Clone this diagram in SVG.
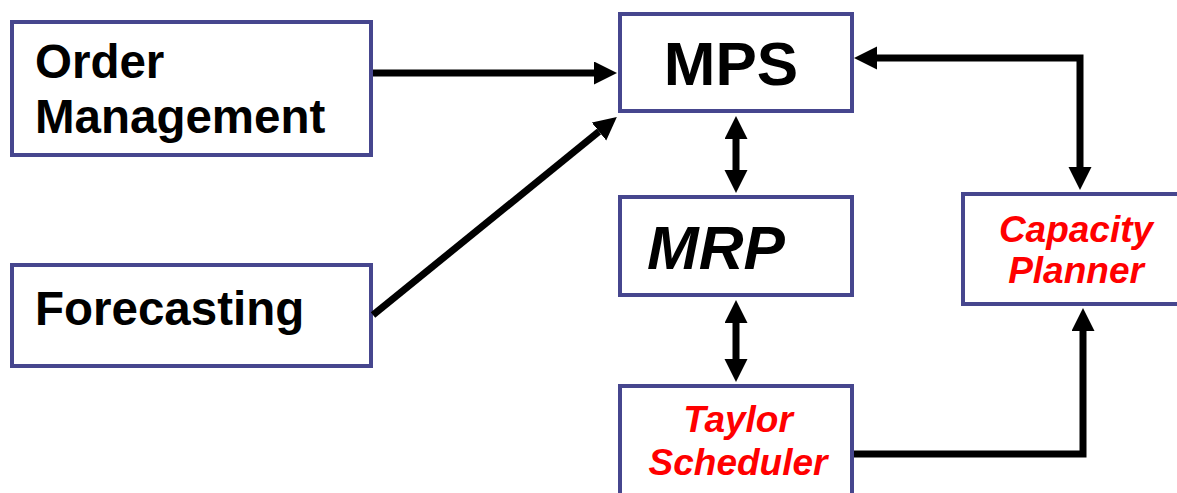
<svg xmlns="http://www.w3.org/2000/svg" width="1177" height="493" viewBox="0 0 1177 493">
<style>
.box{fill:#fff;stroke:#46468e;stroke-width:4}
.t{font-family:"Liberation Sans",Arial,sans-serif;font-weight:bold;fill:#000}
.red{fill:#ff0000;font-style:italic}
.c{fill:none;stroke:#000;stroke-width:7;stroke-linejoin:miter}
</style>
<defs>
<marker id="ah" markerUnits="userSpaceOnUse" markerWidth="24" markerHeight="24" refX="0" refY="11.5" orient="auto-start-reverse" viewBox="0 0 24 24">
<path d="M0,0 L23,11.5 L0,23 z" fill="#000"/>
</marker>
</defs>
<g id="order-management">
<rect class="box" x="12" y="22" width="359" height="133"/>
<text class="t" x="35" y="78" font-size="47.5">Order</text>
<text class="t" x="35" y="133" font-size="47.5">Management</text>
</g>
<g id="forecasting">
<rect class="box" x="12" y="265" width="359" height="101"/>
<text class="t" x="35" y="325" font-size="47.5">Forecasting</text>
</g>
<g id="mps">
<rect class="box" x="620" y="14" width="232" height="97"/>
<text class="t" x="731" y="85" font-size="62" text-anchor="middle">MPS</text>
</g>
<g id="mrp">
<rect class="box" x="620" y="197" width="232" height="98"/>
<text class="t" x="647" y="269" font-size="62" font-style="italic">MRP</text>
</g>
<g id="taylor-scheduler">
<rect class="box" x="620" y="386" width="232" height="130"/>
<text class="t red" x="738" y="432" font-size="37" text-anchor="middle">Taylor</text>
<text class="t red" x="738" y="475" font-size="37" text-anchor="middle">Scheduler</text>
</g>
<g id="capacity-planner">
<rect class="box" x="963" y="194" width="240" height="110"/>
<text class="t red" x="1076" y="242" font-size="37" text-anchor="middle">Capacity</text>
<text class="t red" x="1076" y="283" font-size="37" text-anchor="middle">Planner</text>
</g>
<g id="connectors">
<line class="c" x1="373" y1="73" x2="594" y2="73" marker-end="url(#ah)"/>
<line class="c" x1="373" y1="315" x2="599" y2="131.5" marker-end="url(#ah)"/>
<line class="c" x1="736" y1="139" x2="736" y2="170" marker-start="url(#ah)" marker-end="url(#ah)"/>
<line class="c" x1="736" y1="323" x2="736" y2="359" marker-start="url(#ah)" marker-end="url(#ah)"/>
<path class="c" d="M877,58 L1080,58 L1080,167" marker-start="url(#ah)" marker-end="url(#ah)"/>
<path class="c" d="M854,454 L1083,454 L1083,331" marker-end="url(#ah)"/>
</g>
</svg>
